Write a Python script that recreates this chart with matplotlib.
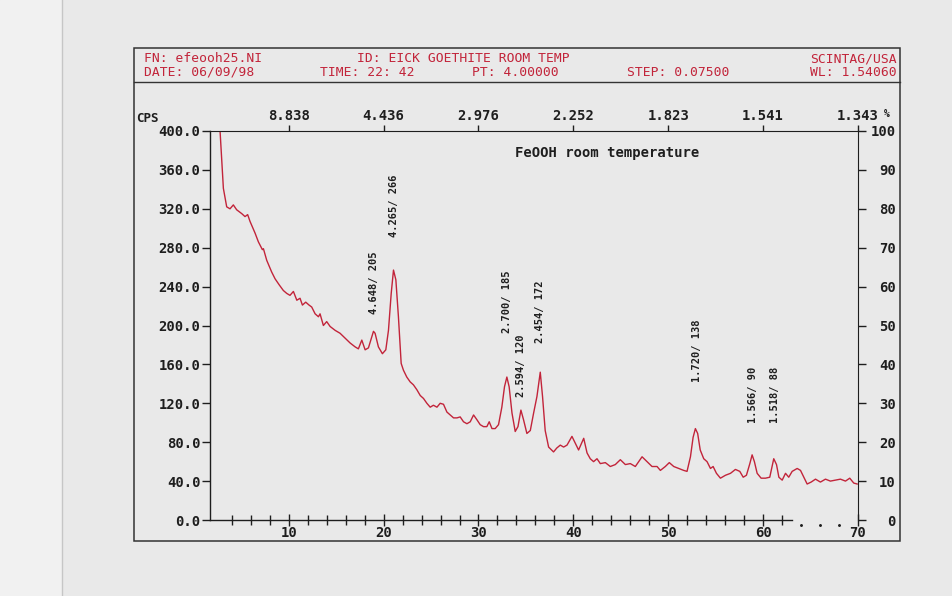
import matplotlib.pyplot as plt
from matplotlib.patches import Rectangle
from matplotlib.lines import Line2D

# scan: 2-theta (deg) and counts (CPS)
two_theta = [2.76, 3.11, 3.46, 3.81, 4.16, 4.51, 5.05, 5.39, 5.67, 5.92, 6.45, 6.80, 7.22, 7.33,
             7.68, 8.20, 8.56, 8.98, 9.43, 9.79, 10.13, 10.49, 10.85, 11.19, 11.44, 11.79, 12.14,
             12.42, 12.78, 13.13, 13.30, 13.65, 14.00, 14.36, 14.89, 15.41, 15.94, 16.47, 17.00,
             17.34, 17.70, 18.05, 18.40, 18.93, 19.10, 19.45, 19.87, 20.23, 20.51, 20.80, 21.04,
             21.29, 21.56, 21.85, 22.09, 22.44, 22.80, 23.14, 23.50, 23.86, 24.20, 24.56, 24.91,
             25.25, 25.62, 25.96, 26.31, 26.67, 27.02, 27.37, 27.73, 28.07, 28.42, 28.78, 29.13,
             29.48, 29.84, 30.18, 30.53, 30.88, 31.13, 31.42, 31.76, 32.11, 32.46, 32.74, 32.99,
             33.23, 33.53, 33.87, 34.16, 34.47, 34.75, 35.10, 35.46, 35.81, 36.16, 36.51, 36.75,
             37.03, 37.39, 37.91, 38.25, 38.62, 38.97, 39.33, 39.85, 40.20, 40.55, 41.09, 41.44,
             41.78, 42.13, 42.49, 42.84, 43.37, 43.89, 44.42, 44.95, 45.48, 46.00, 46.53, 47.24,
             47.76, 48.29, 48.82, 49.17, 49.69, 50.11, 50.58, 51.10, 51.63, 51.98, 52.34, 52.62,
             52.86, 53.10, 53.37, 53.74, 54.09, 54.45, 54.73, 55.08, 55.50, 56.03, 56.56, 57.08,
             57.54, 57.90, 58.24, 58.60, 58.84, 59.08, 59.37, 59.79, 60.25, 60.70, 61.12, 61.41,
             61.66, 62.01, 62.36, 62.70, 63.06, 63.59, 63.94, 64.29, 64.64, 65.06, 65.52, 66.04,
             66.57, 67.09, 67.63, 68.15, 68.68, 69.13, 69.55, 69.91]
cps = [400, 341, 322, 320, 324, 319, 315, 312, 314, 307, 295, 286, 278, 279,
       267, 255, 248, 242, 236, 233, 231, 235, 226, 228, 221, 224, 221,
       219, 212, 209, 212, 200, 204, 199, 195, 192, 187, 182, 178,
       176, 185, 175, 177, 194, 192, 178, 171, 175, 195, 233, 257,
       247, 209, 161, 154, 147, 142, 139, 134, 128, 125, 120, 116,
       118, 116, 120, 119, 111, 108, 105, 105, 106, 101, 99, 101,
       108, 103, 98, 96, 96, 101, 94, 94, 98, 116, 137, 147,
       137, 110, 91, 96, 113, 103, 89, 92, 110, 127, 152, 127,
       92, 75, 70, 74, 77, 75, 77, 86, 79, 72, 84, 69,
       63, 60, 63, 58, 59, 55, 57, 62, 57, 58, 55, 65,
       60, 55, 55, 51, 55, 59, 55, 53, 51, 50, 65, 85,
       94, 89, 72, 63, 60, 53, 55, 48, 43, 46, 48, 52,
       50, 44, 46, 58, 67, 60, 48, 43, 43, 44, 63, 57,
       44, 41, 48, 44, 50, 53, 51, 44, 37, 39, 42, 39,
       42, 40, 41, 42, 40, 43, 38, 37]

cps_ticks = [0, 40, 80, 120, 160, 200, 240, 280, 320, 360, 400]
pct_ticks = [0, 10, 20, 30, 40, 50, 60, 70, 80, 90, 100]
x_major = [10, 20, 30, 40, 50, 60, 70]
x_minor = [4, 6, 8, 12, 14, 16, 18, 22, 24, 26, 28, 32, 34, 36, 38, 42, 44, 46, 48,
           52, 54, 56, 58, 62]
x_faded = [64, 66, 68]
d_labels = ['8.838', '4.436', '2.976', '2.252', '1.823', '1.541', '1.343']

# peak markers: position, base of the label (CPS), text
peak_x = [19.0, 21.1, 33.03, 34.47, 36.48, 53.07, 58.9, 61.21]
peak_base = [212, 291, 192, 126, 182, 142, 100, 100]
peak_text = ['4.648/ 205', '4.265/ 266', '2.700/ 185', '2.594/ 120', '2.454/ 172',
             '1.720/ 138', '1.566/ 90', '1.518/ 88']

W, H = 952, 596
ink = '#1e1e1e'
red = '#c2243a'
mono = 'DejaVu Sans Mono'

fig = plt.figure(figsize=(W / 100, H / 100), dpi=100, facecolor='#e9e9e9')

# page edge at the left of the scan
fig.add_artist(Rectangle((0, 0), 62 / W, 1, transform=fig.transFigure, color='#f1f1f1', zorder=-5))
fig.add_artist(Line2D([62 / W, 62 / W], [0, 1], transform=fig.transFigure, color='#c6c6c6', lw=1))

# outer frame and header
fig.add_artist(Rectangle((134 / W, 1 - 541 / H), (900 - 134) / W, (541 - 48) / H,
                         transform=fig.transFigure, fill=False, ec='#333333', lw=1.1))
fig.add_artist(Line2D([134 / W, 900 / W], [1 - 82 / H, 1 - 82 / H], transform=fig.transFigure,
                      color='#333333', lw=1.0))

def px(x, y):
    return x / W, 1 - y / H

hdr = dict(color=red, fontsize=9.4, family=mono, va='center')
fig.text(*px(144, 59), 'FN: efeooh25.NI', ha='left', **hdr)
fig.text(*px(357, 59), 'ID: EICK GOETHITE ROOM TEMP', ha='left', **hdr)
fig.text(*px(897, 59), 'SCINTAG/USA', ha='right', **hdr)
fig.text(*px(144, 72), 'DATE: 06/09/98', ha='left', **hdr)
fig.text(*px(320, 72), 'TIME: 22: 42', ha='left', **hdr)
fig.text(*px(472, 72), 'PT: 4.00000', ha='left', **hdr)
fig.text(*px(627, 72), 'STEP: 0.07500', ha='left', **hdr)
fig.text(*px(897, 72), 'WL: 1.54060', ha='right', **hdr)

lab = dict(family=mono, fontweight='bold', fontsize=10, color=ink)
fig.text(*px(136, 118), 'CPS', ha='left', va='center', family=mono, fontweight='bold',
         fontsize=9, color=ink)
fig.text(*px(884, 119), '%', ha='left', va='bottom', family=mono, fontweight='bold',
         fontsize=7, color=ink)

ax = fig.add_axes([210 / W, 76 / H, 648 / W, 389 / H])
ax.set_facecolor('none')
ax.plot(two_theta, cps, color=red, lw=1.0)
ax.set_xlim(1.7, 70)
ax.set_ylim(0, 400)

for s in ['top', 'right']:
    ax.spines[s].set_visible(False)
for s in ['left', 'bottom']:
    ax.spines[s].set_color(ink)
    ax.spines[s].set_linewidth(1.0)
ax.spines['bottom'].set_bounds(1.7, 63)

ax.set_yticks(cps_ticks)
ax.set_yticklabels(['%.1f' % v for v in cps_ticks], **lab)
ax.tick_params(axis='y', direction='out', length=6, width=1, pad=1, colors=ink)

ax.set_xticks(x_major)
ax.set_xticklabels([str(v) for v in x_major], **lab)
ax.set_xticks(x_minor, minor=True)
ax.tick_params(axis='x', which='major', direction='inout', length=9, width=1, pad=0, colors=ink)
ax.tick_params(axis='x', which='minor', direction='inout', length=6.5, width=1, colors=ink)
ax.scatter(x_faded, [-0.012] * len(x_faded), s=1.2, color=ink, transform=ax.get_xaxis_transform(),
           clip_on=False)

# right percentage scale
ax2 = ax.twinx()
ax2.set_ylim(0, 100)
for s in ['top', 'left', 'bottom']:
    ax2.spines[s].set_visible(False)
ax2.spines['right'].set_color(ink)
ax2.set_yticks(pct_ticks)
ax2.set_yticklabels([str(v) for v in pct_ticks], **lab)
ax2.tick_params(axis='y', direction='out', length=6, width=1, pad=21, colors=ink)
for t in ax2.get_yticklabels():
    t.set_ha('right')

# top d-spacing scale
ax3 = ax.twiny()
ax3.set_xlim(1.7, 70)
for s in ['bottom', 'left', 'right']:
    ax3.spines[s].set_visible(False)
ax3.spines['top'].set_color(ink)
ax3.set_xticks(x_major)
ax3.set_xticklabels(d_labels, **lab)
ax3.tick_params(axis='x', direction='out', length=4, width=1, pad=2, colors=ink)

ax.text(33.8, 377, 'FeOOH room temperature', ha='left', va='center', family=mono,
        fontweight='bold', fontsize=10, color=ink)

for x, y, t in zip(peak_x, peak_base, peak_text):
    ax.text(x, y, t, rotation=90, ha='center', va='bottom', family=mono,
            fontweight='bold', fontsize=7.5, color=ink)

fig.savefig('out.png', dpi=100, facecolor=fig.get_facecolor())
